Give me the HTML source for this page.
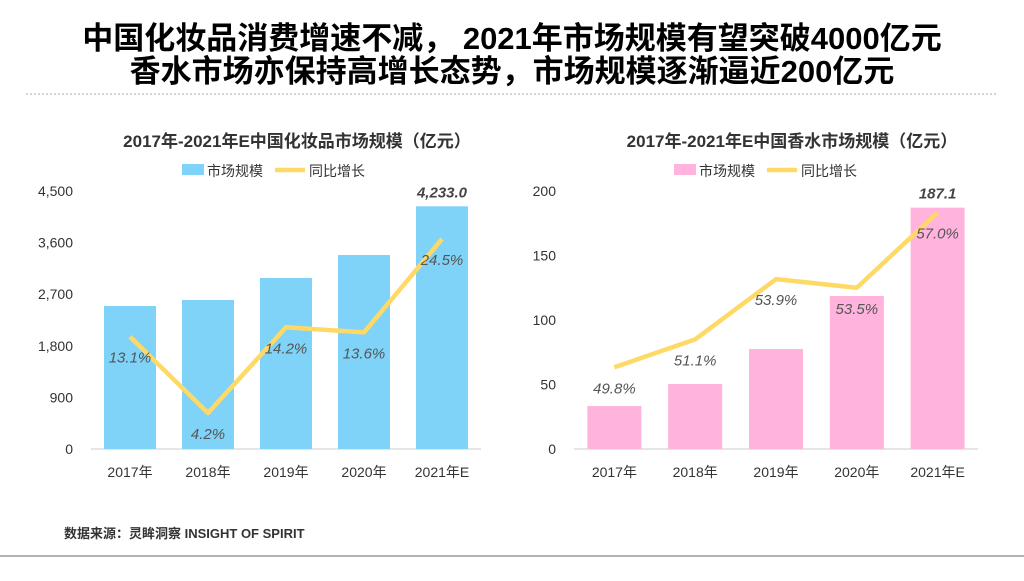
<!DOCTYPE html>
<html><head><meta charset="utf-8"><style>
body{margin:0;width:1024px;height:576px;background:#fff;overflow:hidden;font-family:"Liberation Sans","Noto Sans CJK SC",sans-serif}
svg text{font-family:"Liberation Sans","Noto Sans CJK SC",sans-serif}
</style></head><body>
<svg id="s" width="1024" height="576">
<text x="512" y="49" text-anchor="middle" font-size="31" font-weight="bold" fill="#000">中国化妆品消费增速不减， 2021年市场规模有望突破4000亿元</text>
<text x="512" y="82" text-anchor="middle" font-size="31" font-weight="bold" fill="#000">香水市场亦保持高增长态势，市场规模逐渐逼近200亿元</text>
<line x1="26" y1="94" x2="998" y2="94" stroke="#aaa" stroke-dasharray="2,2"/>
<text x="297" y="147" text-anchor="middle" font-size="17" font-weight="bold" fill="#333">2017年-2021年E中国化妆品市场规模（亿元）</text>
<text x="792" y="147" text-anchor="middle" font-size="17" font-weight="bold" fill="#333">2017年-2021年E中国香水市场规模（亿元）</text>
<text x="64" y="538" font-size="13" font-weight="bold" fill="#333">数据来源：灵眸洞察 INSIGHT OF SPIRIT</text>
<line x1="0" y1="556" x2="1024" y2="556" stroke="#999" stroke-width="1.5"/>
<g id="L"></g><g id="R"></g>
</svg>
<script>
const categories=["2017年","2018年","2019年","2020年","2021年E"];
const cosmeticValues=[2494,2599,2983,3384,4233];
const cosmeticGrowth=[13.1,4.2,14.2,13.6,24.5];
const cosmeticTicks=[0,900,1800,2700,3600,4500];
const perfumeValues=[33.3,50.4,77.5,118.6,187.1];
const perfumeGrowth=[49.8,51.1,53.9,53.5,57.0];
const perfumeTicks=[0,50,100,150,200];
const NS="http://www.w3.org/2000/svg";
function mk(p,t,a){const e=document.createElementNS(NS,t);for(const k in a)e.setAttribute(k,a[k]);p.appendChild(e);return e;}
function chart(g,cfg){
 const y0=449,y1=191,x0=cfg.x0,x1=cfg.x1;
 const yv=v=>y0-(v-0)/(cfg.ymax)*(y0-y1);
 const yg=v=>y0-(v-cfg.gmin)/(cfg.gmax-cfg.gmin)*(y0-y1);
 const step=(x1-x0)/categories.length;
 const xc=i=>x0+step*(i+0.5);
 cfg.ticks.forEach(t=>{const e=mk(g,"text",{x:x0-18,y:yv(t)+5,"text-anchor":"end","font-size":14,fill:"#333"});e.textContent=t.toLocaleString("en-US");
 
 });
 const ax=mk(g,"line",{x1:x0,x2:x1,y1:y0,y2:y0,stroke:"#ccc"});
 
 
 cfg.values.forEach((v,i)=>{const b=mk(g,"rect",{x:xc(i)-cfg.bw/2,y:yv(v),width:cfg.bw,height:y0-yv(v),fill:cfg.color});
 
 
 const t=mk(g,"text",{x:xc(i),y:477,"text-anchor":"middle","font-size":14,fill:"#333"});t.textContent=categories[i];
 
 });
 const last=cfg.values.length-1;
 const vl=mk(g,"text",{x:xc(last),y:yv(cfg.values[last])-9,"text-anchor":"middle","font-size":15,"font-weight":"bold","font-style":"italic",fill:"#444"});
 vl.textContent=cfg.lastLabel;
 
 
 const pts=cfg.growth.map((v,i)=>xc(i)+","+yg(v)).join(" ");
 const pl=mk(g,"polyline",{points:pts,fill:"none",stroke:"#ffd966","stroke-width":4.5,"stroke-linejoin":"round"});
 
 
 cfg.growth.forEach((v,i)=>{const t=mk(g,"text",{x:xc(i),y:yg(v)+26,"text-anchor":"middle","font-size":15,"font-style":"italic",fill:"#555"});t.textContent=v.toFixed(1)+"%";
 
 });
 const lx=cfg.legendX;
 const r=mk(g,"rect",{x:lx,y:164,width:22,height:11,fill:cfg.color});
 
 
 const t1=mk(g,"text",{x:lx+25,y:176,"font-size":14,fill:"#333"});t1.textContent="市场规模";
 
 
 const l=mk(g,"line",{x1:lx+93,x2:lx+123,y1:170,y2:170,stroke:"#ffd966","stroke-width":4.5});
 
 
 const t2=mk(g,"text",{x:lx+127,y:176,"font-size":14,fill:"#333"});t2.textContent="同比增长";
 
 
}
chart(document.getElementById("L"),{x0:91,x1:481,ymax:4500,gmin:0,gmax:30.1,bw:52,color:"#7fd3f8",values:cosmeticValues,growth:cosmeticGrowth,ticks:cosmeticTicks,lastLabel:"4,233.0",legendX:182});
chart(document.getElementById("R"),{x0:574,x1:978,ymax:200,gmin:46.0,gmax:58.0,bw:54,color:"#ffb3dd",values:perfumeValues,growth:perfumeGrowth,ticks:perfumeTicks,lastLabel:"187.1",legendX:674});
</script>
</body></html>
